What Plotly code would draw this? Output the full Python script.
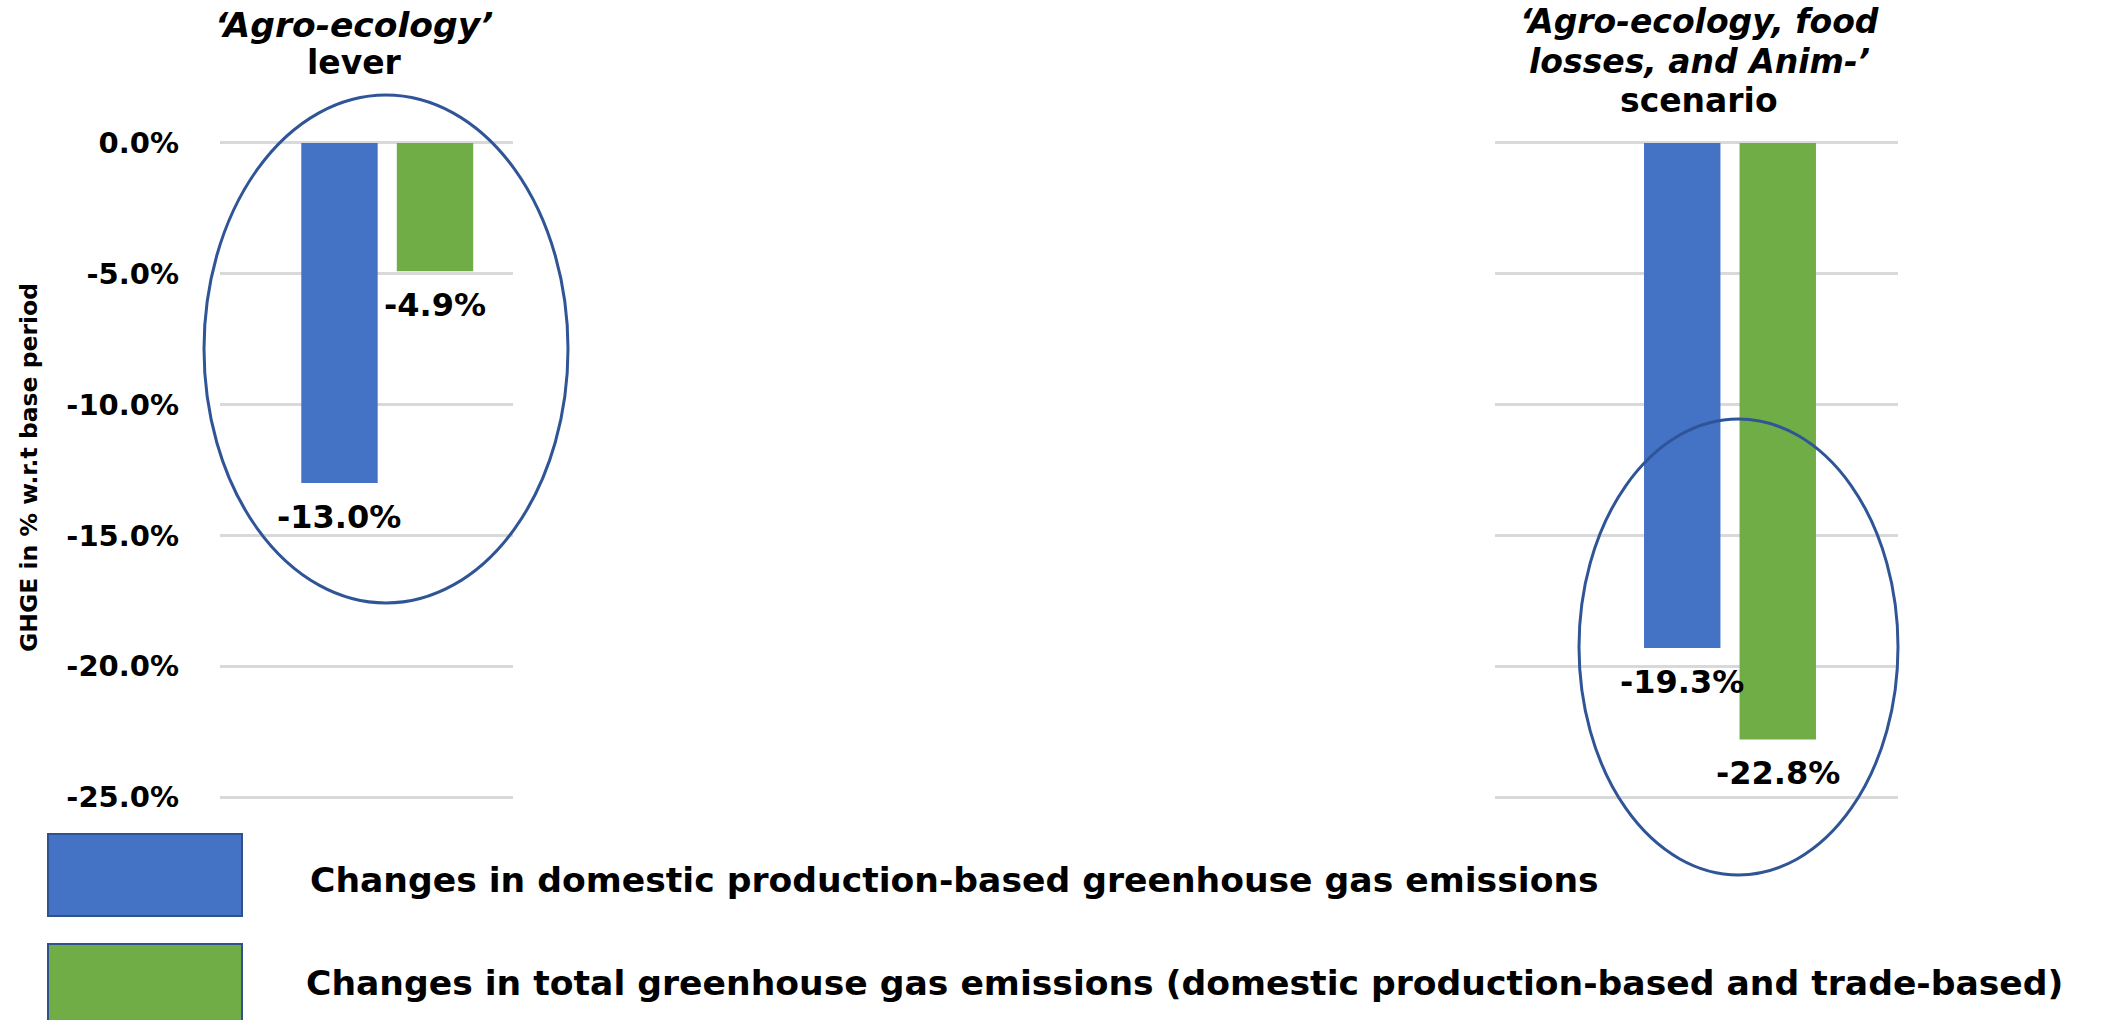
import plotly.graph_objects as go

# ---------------- data ----------------
categories = ["‘Agro-ecology’ lever", "‘Agro-ecology, food losses, and Anim-’ scenario"]
title_lines_left = ["<i>‘Agro-ecology’</i>", "lever"]
title_lines_right = ["<i>‘Agro-ecology, food</i>", "<i>losses, and Anim-’</i>", "scenario"]
series_names = [
    "Changes in domestic production-based greenhouse gas emissions",
    "Changes in total greenhouse gas emissions (domestic production-based and trade-based)",
]
domestic_change = [-13.0, -19.3]
total_change = [-4.9, -22.8]
tick_values = [0, -5, -10, -15, -20, -25]
tick_labels = ["0.0%", "-5.0%", "-10.0%", "-15.0%", "-20.0%", "-25.0%"]
y_title = "GHGE in % w.r.t base period"

# ---------------- style ----------------
W, H = 2111, 1020
BLUE = "#4472C4"
GREEN = "#70AD47"
RING = "#2F5597"
GRID = "#D9D9D9"
BOLD = "DejaVu Sans"
BARGAP = 0.348
GROUPGAP = 0.2


def fx(p):
    return p / W


def fy(p):
    return 1 - p / H


fig = go.Figure()
colors = [BLUE, GREEN]
values = [domestic_change, total_change]
axes = [("x", "y"), ("x2", "y2")]
ann = []
slot = (1 - BARGAP) / 2  # width of one bar slot within a category (data units)
for ci, cat in enumerate(categories):
    xa, ya = axes[ci]
    for si in range(2):
        fig.add_trace(go.Bar(
            x=[cat], y=[values[si][ci]], name=series_names[si],
            xaxis=xa, yaxis=ya, marker=dict(color=colors[si], line=dict(width=0)),
            offsetgroup=str(si), showlegend=False,
        ))
        # value label below the bar end, centred on the bar's slot
        ann.append(dict(
            text="<b>%.1f%%</b>" % values[si][ci],
            x=(si - 0.5) * slot, y=values[si][ci], xref=xa, yref=ya,
            xanchor="center", yanchor="middle", yshift=-34, showarrow=False,
            font=dict(family=BOLD, size=32, color="black"),
        ))

ydom = [fy(823.2), fy(116.8)]
yax_common = dict(range=[-26, 1], domain=ydom, showgrid=True, gridcolor=GRID, gridwidth=3,
                  zeroline=False, showline=False, tickvals=tick_values, ticktext=tick_labels)
fig.update_layout(
    width=W, height=H, margin=dict(l=0, r=0, t=0, b=0),
    paper_bgcolor="white", plot_bgcolor="white",
    barmode="group", bargap=BARGAP, bargroupgap=GROUPGAP,
    xaxis=dict(domain=[fx(220), fx(513)], range=[-0.5708, 0.4292], showticklabels=False,
               showgrid=False, zeroline=False, anchor="y"),
    xaxis2=dict(domain=[fx(1495), fx(1898)], range=[-0.802, 0.5734], showticklabels=False,
                showgrid=False, zeroline=False, anchor="y2"),
    yaxis=dict(**yax_common, anchor="x", ticks="", ticklabelstandoff=40,
               tickfont=dict(family=BOLD, size=29, color="black", weight="bold")),
    yaxis2=dict(**yax_common, anchor="x2", matches="y", showticklabels=False),
)

# panel titles
for txt, yc, sz in zip(title_lines_left, [25, 62], [34.5, 33]):
    ann.append(dict(text="<b>" + txt + "</b>", x=fx(354), y=fy(yc), xref="paper", yref="paper",
                    xanchor="center", yanchor="middle", showarrow=False,
                    font=dict(family=BOLD, size=sz, color="black")))
for txt, yc in zip(title_lines_right, [21.5, 61.5, 101]):
    ann.append(dict(text="<b>" + txt + "</b>", x=fx(1699), y=fy(yc), xref="paper", yref="paper",
                    xanchor="center", yanchor="middle", showarrow=False,
                    font=dict(family=BOLD, size=33, color="black")))
# y-axis title
ann.append(dict(text="<b>" + y_title + "</b>", x=fx(29), y=fy(468), xref="paper", yref="paper",
                xanchor="center", yanchor="middle", textangle=-90, showarrow=False,
                font=dict(family=BOLD, size=23.5, color="black")))
# legend texts
for name, yc, xl in zip(series_names, [880, 983], [308, 304]):
    ann.append(dict(text="<b>" + name + "</b>", x=fx(xl), y=fy(yc), xref="paper", yref="paper",
                    xanchor="left", yanchor="middle", showarrow=False,
                    font=dict(family=BOLD, size=34.6, color="black")))

shapes = [
    # highlight ellipses
    dict(type="circle", xref="paper", yref="paper", x0=fx(204), x1=fx(568), y0=fy(603), y1=fy(95),
         line=dict(color=RING, width=3), fillcolor="rgba(0,0,0,0)", layer="above"),
    dict(type="circle", xref="paper", yref="paper", x0=fx(1579), x1=fx(1898), y0=fy(875), y1=fy(419),
         line=dict(color=RING, width=3), fillcolor="rgba(0,0,0,0)", layer="above"),
    # legend swatches
    dict(type="rect", xref="paper", yref="paper", x0=fx(48), x1=fx(242), y0=fy(916), y1=fy(834),
         fillcolor=BLUE, line=dict(color="#2F528F", width=2)),
    dict(type="rect", xref="paper", yref="paper", x0=fx(48), x1=fx(242), y0=fy(1030), y1=fy(944),
         fillcolor=GREEN, line=dict(color="#2F528F", width=2)),
]
fig.update_layout(annotations=ann, shapes=shapes)

fig.write_html(
    "out.html",
    config={"displayModeBar": False},
    post_script="document.body.style.margin='0';document.body.style.overflow='hidden';",
)
